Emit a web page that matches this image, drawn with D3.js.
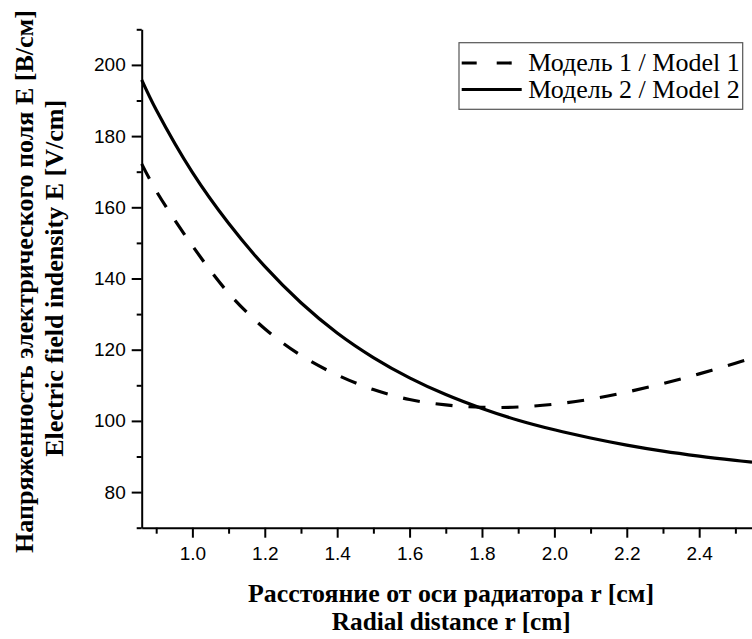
<!DOCTYPE html>
<html><head><meta charset="utf-8">
<script src="https://cdn.jsdelivr.net/npm/d3@7"></script>
<style>body{margin:0;background:#fff}svg{display:block}</style>
</head><body>
<script>
const radius = [0.86, 0.9, 1.0, 1.1, 1.2, 1.3, 1.4, 1.5, 1.6, 1.7, 1.8, 1.9, 2.0, 2.1, 2.2, 2.3, 2.4, 2.5, 2.546];
const model1 = [172.2, 164.6, 149.2, 135.9, 125.9, 118.4, 112.9, 108.8, 106.0, 104.5, 103.8, 103.9, 104.7, 106.1, 108.1, 110.5, 113.2, 116.2, 117.6];
const model2 = [195.8, 187.4, 169.8, 155.5, 143.4, 133.2, 124.7, 117.8, 112.1, 107.4, 103.5, 100.2, 97.5, 95.2, 93.2, 91.5, 90.1, 88.9, 88.4];
const xTicks = [1.0, 1.2, 1.4, 1.6, 1.8, 2.0, 2.2, 2.4];
const yTicks = [80, 100, 120, 140, 160, 180, 200];
const legendLabels = ["Модель 1 / Model 1", "Модель 2 / Model 2"];
const xTitle = ["Расстояние от оси радиатора r [см]", "Radial distance r [cm]"];
const yTitle = ["Напряженность электрического поля E [В/см]", "Electric field indensity E [V/cm]"];

const W = 752, H = 639;
const svg = d3.select("body").append("svg").attr("width", W).attr("height", H);
svg.append("rect").attr("width", W).attr("height", H).attr("fill", "#fff");

const x = d3.scaleLinear().domain([0.86, 2.56]).range([141.7, 141.7 + 1.70 * 362]);
const y = d3.scaleLinear().domain([70, 210]).range([527.7, 29.3]);

const tickFont = "'Liberation Sans', Arial, sans-serif";
const serif = "'Liberation Serif', 'Times New Roman', serif";

// x axis
const xMinor = d3.range(0.9, 2.56, 0.2).map(v => +v.toFixed(2));
const gx = svg.append("g").attr("transform", `translate(0,${y(70)})`);
gx.call(d3.axisBottom(x).tickValues(xMinor).tickSize(6).tickFormat(""));
gx.call(g => g.select(".domain").remove());
const gx2 = svg.append("g").attr("transform", `translate(0,${y(70)})`);
gx2.call(d3.axisBottom(x).tickValues(xTicks).tickSize(10).tickSizeOuter(0).tickPadding(9).tickFormat(d3.format(".1f")));
[gx, gx2].forEach(g => {
  g.selectAll("line").attr("stroke", "#000").attr("stroke-width", 2);
  g.selectAll("text").attr("font-family", tickFont).attr("font-size", 19).attr("fill", "#000");
});
gx2.select(".domain").attr("stroke", "#000").attr("stroke-width", 2);

// y axis
const yMinor = d3.range(70, 211, 20);
const gy = svg.append("g").attr("transform", `translate(${x(0.86)},0)`);
gy.call(d3.axisLeft(y).tickValues(yMinor).tickSize(5).tickFormat(""));
gy.call(g => g.select(".domain").remove());
const gy2 = svg.append("g").attr("transform", `translate(${x(0.86)},0)`);
gy2.call(d3.axisLeft(y).tickValues(yTicks).tickSize(10).tickSizeOuter(0).tickPadding(6));
[gy, gy2].forEach(g => {
  g.selectAll("line").attr("stroke", "#000").attr("stroke-width", 2);
  g.selectAll("text").attr("font-family", tickFont).attr("font-size", 19).attr("fill", "#000");
});
gy2.select(".domain").attr("stroke", "#000").attr("stroke-width", 2);

// lines
const line = d3.line().x(d => x(d[0])).y(d => y(d[1])).curve(d3.curveCatmullRom);
svg.append("path").datum(radius.map((r, i) => [r, model1[i]]))
  .attr("d", line).attr("fill", "none").attr("stroke", "#000").attr("stroke-width", 3.2)
  .attr("stroke-dasharray", "17,16");
svg.append("path").datum(radius.map((r, i) => [r, model2[i]]))
  .attr("d", line).attr("fill", "none").attr("stroke", "#000").attr("stroke-width", 3.2);

// legend
const lg = svg.append("g");
lg.append("rect").attr("x", 459).attr("y", 42.7).attr("width", 283.7).attr("height", 66.6)
  .attr("fill", "#fff").attr("stroke", "#555").attr("stroke-width", 1.2);
lg.append("line").attr("x1", 461.7).attr("x2", 521.7).attr("y1", 63).attr("y2", 63)
  .attr("stroke", "#000").attr("stroke-width", 3.2).attr("stroke-dasharray", "15,20");
lg.append("line").attr("x1", 461.7).attr("x2", 521.7).attr("y1", 89.5).attr("y2", 89.5)
  .attr("stroke", "#000").attr("stroke-width", 3.2);
lg.selectAll("text.lab").data(legendLabels).join("text").attr("class", "lab")
  .attr("x", 528.3).attr("y", (d, i) => 71 + i * 26.5)
  .attr("font-family", serif).attr("font-size", 26).attr("fill", "#000").text(d => d);

// axis titles
const xt = [{cx: 451, by: 601.5, len: 406, fs: 25}, {cx: 451.3, by: 630, len: 239, fs: 25}];
xTitle.forEach((t, i) => {
  svg.append("text").attr("x", xt[i].cx).attr("y", xt[i].by).attr("text-anchor", "middle")
    .attr("font-family", serif).attr("font-weight", "bold").attr("font-size", xt[i].fs)
    .attr("textLength", xt[i].len).attr("lengthAdjust", "spacingAndGlyphs")
    .text(t);
});
const yt = [{bx: 32.5, cy: 281.5, len: 543, fs: 26}, {bx: 63.3, cy: 278.3, len: 357, fs: 26}];
yTitle.forEach((t, i) => {
  svg.append("text").attr("transform", `translate(${yt[i].bx},${yt[i].cy}) rotate(-90)`)
    .attr("text-anchor", "middle")
    .attr("font-family", serif).attr("font-weight", "bold").attr("font-size", yt[i].fs)
    .attr("textLength", yt[i].len).attr("lengthAdjust", "spacingAndGlyphs")
    .text(t);
});
</script>
</body></html>
